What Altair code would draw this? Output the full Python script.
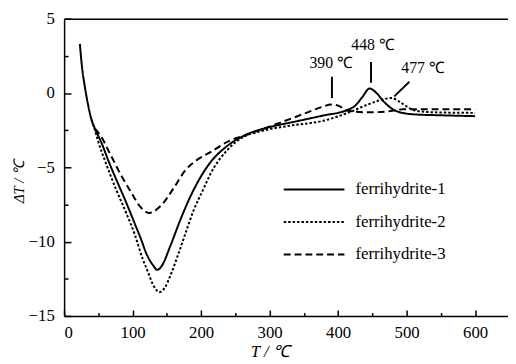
import altair as alt
import pandas as pd

series_names = ["ferrihydrite-1", "ferrihydrite-2", "ferrihydrite-3"]

t1 = [23, 26, 30, 35, 40, 45, 55, 65, 75, 90, 105, 112, 120, 130, 136, 143, 155, 170, 184, 200, 213, 237, 266, 300, 340, 380, 410, 425, 435, 446, 456, 466, 480, 495, 515, 550, 600]
v1 = [3.3, 1.8, 0.5, -0.8, -1.8, -2.4, -3.4, -4.6, -5.7, -7.3, -9.0, -9.8, -10.8, -11.6, -11.9, -11.6, -10.3, -8.5, -7.0, -5.6, -4.7, -3.6, -2.8, -2.3, -1.9, -1.5, -1.2, -0.85, -0.3, 0.3, 0.0, -0.55, -1.1, -1.35, -1.45, -1.5, -1.56]

t2 = [40, 45, 50, 60, 76, 90, 103, 115, 122, 131, 139, 147, 155, 167, 179, 189, 203, 213, 237, 260, 285, 330, 380, 419, 442, 460, 478, 490, 500, 514, 540, 600]
v2 = [-1.8, -2.5, -3.3, -4.6, -6.5, -8.0, -9.5, -11.2, -12.0, -13.0, -13.4, -13.1, -12.3, -10.8, -9.2, -7.9, -6.5, -5.5, -3.9, -3.0, -2.6, -2.2, -1.85, -1.25, -0.8, -0.5, -0.34, -0.6, -0.9, -1.2, -1.3, -1.34]

t3 = [45, 55, 65, 84, 98, 112, 124, 141, 160, 177, 194, 213, 242, 261, 309, 350, 376, 390, 400, 414, 447, 476, 495, 600]
v3 = [-2.4, -3.0, -3.9, -5.6, -6.7, -7.7, -8.07, -7.6, -6.4, -5.2, -4.5, -4.0, -3.2, -2.9, -2.1, -1.4, -0.95, -0.78, -0.85, -1.2, -1.3, -1.22, -1.1, -1.1]

ann_labels = ["390 ℃", "448 ℃", "477 ℃"]
ann_text_T = [390, 451, 524]
ann_text_dT = [2.0, 3.19, 1.69]
ann_T1 = [391, 448, 504]
ann_dT1 = [1.09, 2.08, 0.76]
ann_T2 = [391, 448, 482]
ann_dT2 = [-0.34, 0.69, -0.23]

x_major = [0, 100, 200, 300, 400, 500, 600]
x_minor = [50, 150, 250, 350, 450, 550]
y_major = [-15, -10, -5, 0, 5]
y_minor = [-12.5, -7.5, -2.5, 2.5]

rows = []
for name, ts, vs in zip(series_names, [t1, t2, t3], [v1, v2, v3]):
    for i, (t, v) in enumerate(zip(ts, vs)):
        rows.append({"series": name, "T": t, "dT": v, "order": i})
df = pd.DataFrame(rows)

ann = pd.DataFrame({
    "label": ann_labels, "tx": ann_text_T, "ty": ann_text_dT,
    "x1": ann_T1, "y1": ann_dT1, "x2": ann_T2, "y2": ann_dT2,
})

FONT = "Liberation Serif, Times New Roman, Tinos, serif"
xscale = alt.Scale(domain=[0, 648], nice=False, zero=False)
yscale = alt.Scale(domain=[-15, 5], nice=False, zero=False)

common = dict(labelFont=FONT, labelFontSize=17, labelColor="black", titleFont=FONT,
              titleColor="black", domainColor="black", domainWidth=1.5, tickColor="black", tickWidth=1.5,
              grid=False)

lines = alt.Chart(df).mark_line(strokeWidth=2, interpolate="monotone", color="black").encode(
    x=alt.X("T:Q", scale=xscale, axis=alt.Axis(
        orient="bottom", values=x_major, tickSize={"expr": "-6"}, labelPadding=15,
        title="T / ℃", titleFontStyle="italic", titleFontWeight="normal", titleFontSize=17,
        titleX=209, titleY=41, titleBaseline="alphabetic", **common)),
    y=alt.Y("dT:Q", scale=yscale, axis=alt.Axis(
        orient="left", values=y_major, tickSize={"expr": "-7"}, labelPadding=17,
        title="ΔT / ℃", titleFontStyle="italic", titleFontWeight="normal", titleFontSize=15,
        titleX=-41, titleY=165, titleAngle=-90, titleBaseline="alphabetic", **common)),
    strokeDash=alt.StrokeDash("series:N", scale=alt.Scale(domain=series_names, range=[[1, 0], [2.5, 2], [7, 4]]),
                              legend=alt.Legend(orient="none", legendX=222, legendY=157, title=None,
                                                symbolType="stroke", symbolSize=3800, symbolStrokeWidth=2,
                                                symbolStrokeColor="black", labelFont=FONT, labelFontSize=17,
                                                labelColor="black", rowPadding=0, labelOffset=10,
                                                labelLimit=300, clipHeight=33)),
    order="order:Q",
)

rules = alt.Chart(ann).mark_rule(strokeWidth=2, color="black").encode(
    x=alt.X("x1:Q", scale=xscale, axis=alt.Axis(
        orient="bottom", values=x_minor, tickSize={"expr": "-3.5"}, labels=False, domain=False, title=None, **common)),
    y=alt.Y("y1:Q", scale=yscale, axis=alt.Axis(
        orient="left", values=y_minor, tickSize={"expr": "-4"}, labels=False, domain=False, title=None, **common)),
    x2="x2:Q",
    y2="y2:Q",
)

texts = alt.Chart(ann).mark_text(font=FONT, fontSize=16, color="black", baseline="middle", align="center").encode(
    x=alt.X("tx:Q", scale=xscale, axis=alt.Axis(orient="top", ticks=False, labels=False, domain=True, title=None, **common)),
    y=alt.Y("ty:Q", scale=yscale, axis=None),
    text="label:N",
)

chart = alt.layer(lines, rules, texts).resolve_axis(x="independent", y="independent").properties(
    width=451, height=302,
    background="white",
    autosize=alt.AutoSizeParams(type="none"),
    padding={"left": 57, "top": 8, "right": 0, "bottom": 46},
).configure_view(stroke=None)

chart.save("out.html", embed_options={"renderer": "svg", "actions": False})
